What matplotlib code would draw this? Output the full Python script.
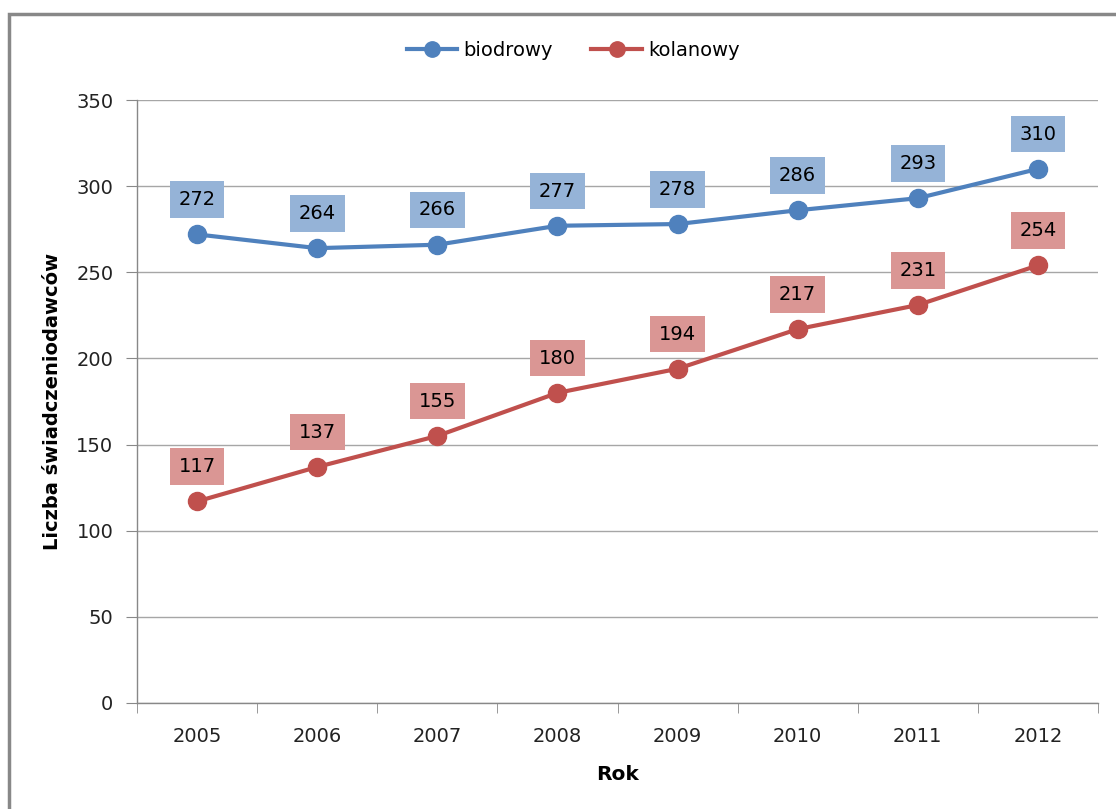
import matplotlib.pyplot as plt
from matplotlib.patches import Rectangle
import numpy as np

years = ['2005', '2006', '2007', '2008', '2009', '2010', '2011', '2012']
biodrowy = [272, 264, 266, 277, 278, 286, 293, 310]
kolanowy = [117, 137, 155, 180, 194, 217, 231, 254]

blue = '#4F81BD'
red = '#C0504D'
blue_box = '#95B3D7'
red_box = '#DA9694'

plt.rcParams['font.family'] = ['DejaVu Sans']

fig = plt.figure(figsize=(11.16, 8.09), dpi=100)
ax = fig.add_axes([137/1116, 1 - 703/809, (1098 - 137)/1116, (703 - 100)/809])

# outer chart frame
fig.patches.append(Rectangle((9/1116, -0.05), 1.1, 1 - 14/809 + 0.05,
                             transform=fig.transFigure, fill=False,
                             edgecolor='#888888', linewidth=2.5))

x = np.arange(len(years))
ax.plot(x, biodrowy, color=blue, lw=3, marker='o', ms=13, label='biodrowy', zorder=3)
ax.plot(x, kolanowy, color=red, lw=3, marker='o', ms=13, label='kolanowy', zorder=3)

for xs, vals, c in [(x, biodrowy, blue_box), (x, kolanowy, red_box)]:
    for xi, v in zip(xs, vals):
        ax.annotate(str(v), (xi, v), xytext=(0, 25), textcoords='offset points',
                    ha='center', va='center', fontsize=14, color='black',
                    bbox=dict(boxstyle='square,pad=0.45', fc=c, ec='none'), zorder=4)

ax.set_xlim(-0.5, 7.5)
ax.set_ylim(0, 350)
ax.set_yticks(range(0, 351, 50))
ax.set_xticks(x)
ax.set_xticklabels(years)
ax.set_xticks(np.arange(-0.5, 8, 1), minor=True)
ax.tick_params(axis='x', which='major', length=0, pad=17, labelsize=14, colors='#222222')
ax.tick_params(axis='x', which='minor', length=7, color='#888888')
ax.tick_params(axis='y', length=8, color='#888888', labelsize=14, labelcolor='#222222', pad=9)
ax.grid(axis='y', color='#a6a6a6', lw=1)
ax.set_axisbelow(True)
for s in ['top', 'right']:
    ax.spines[s].set_visible(False)
for s in ['left', 'bottom']:
    ax.spines[s].set_color('#888888')
    ax.spines[s].set_linewidth(1)

ax.set_ylabel('Liczba świadczeniodawców', fontsize=14, fontweight='bold', labelpad=10)
ax.set_xlabel('Rok', fontsize=14.5, fontweight='bold', labelpad=14)

fig.legend(loc='center', bbox_to_anchor=(573/1116, 1 - 50/809), ncol=2, frameon=False,
           fontsize=14, handlelength=2.6, columnspacing=2.0, handletextpad=0.3,
           markerscale=0.85)

fig.savefig('out.png', dpi=100)
